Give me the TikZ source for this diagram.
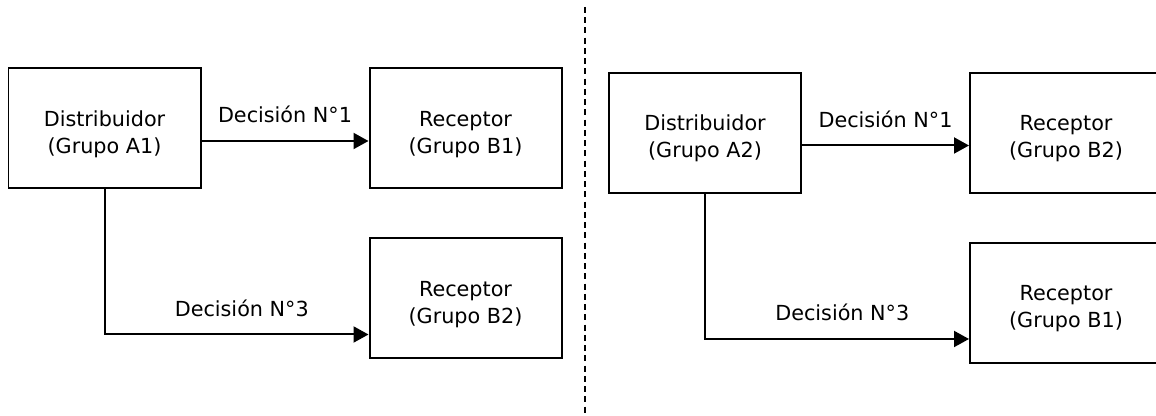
\documentclass[tikz,border=0pt]{standalone}
\usepackage{fontspec}
\setmainfont{DejaVu Sans}
\usepackage{tikz}
\usetikzlibrary{arrows.meta,positioning}

\begin{document}
\begin{tikzpicture}[
        font=\fontsize{11.8pt}{15.4pt}\selectfont,
        agent/.style={draw, line width=0.04cm, align=center, minimum width=3.84cm, minimum height=2.40cm, inner sep=0pt, text height=1.06cm, text depth=0.06cm},
        flow/.style={-{Triangle[length=0.3cm, width=0.32cm]}, line width=0.04cm},
        lbl/.style={above, inner sep=0pt, yshift=0.34cm},
        divider/.style={line width=0.035cm, dash pattern=on 0.12cm off 0.085cm}
    ]
    \useasboundingbox (0,0) rectangle (23.12,8.32);
    % first allocation
    \node[agent] (distA1) at (2.09,5.75) {Distribuidor\\(Grupo A1)};
    \node[agent, right=3.34cm of distA1] (recB1) {Receptor\\(Grupo B1)};
    \node[agent, below=0.96cm of recB1] (recB2) {Receptor\\(Grupo B2)};
    \draw[flow] ([yshift=-0.25cm]distA1.east) -- ([yshift=-0.25cm]distA1.east -| recB1.west) node[lbl, midway] {Decisión N°1};
    \draw[flow] (distA1.south) |- ([yshift=-0.72cm]recB2.west) node[lbl, pos=0.76] {Decisión N°3};
    % separator
    \coordinate (sepTop) at (11.70,8.18);
    \coordinate (sepBot) at (11.70,0);
    \draw[divider] (sepTop) -- (sepBot);
    % second allocation
    \node[agent] (distA2) at (14.10,5.66) {Distribuidor\\(Grupo A2)};
    \node[agent, right=3.34cm of distA2] (recB2r) {Receptor\\(Grupo B2)};
    \node[agent, below=0.96cm of recB2r] (recB1r) {Receptor\\(Grupo B1)};
    \draw[flow] ([yshift=-0.25cm]distA2.east) -- ([yshift=-0.25cm]distA2.east -| recB2r.west) node[lbl, midway] {Decisión N°1};
    \draw[flow] (distA2.south) |- ([yshift=-0.72cm]recB1r.west) node[lbl, pos=0.76] {Decisión N°3};
\end{tikzpicture}
\end{document}
